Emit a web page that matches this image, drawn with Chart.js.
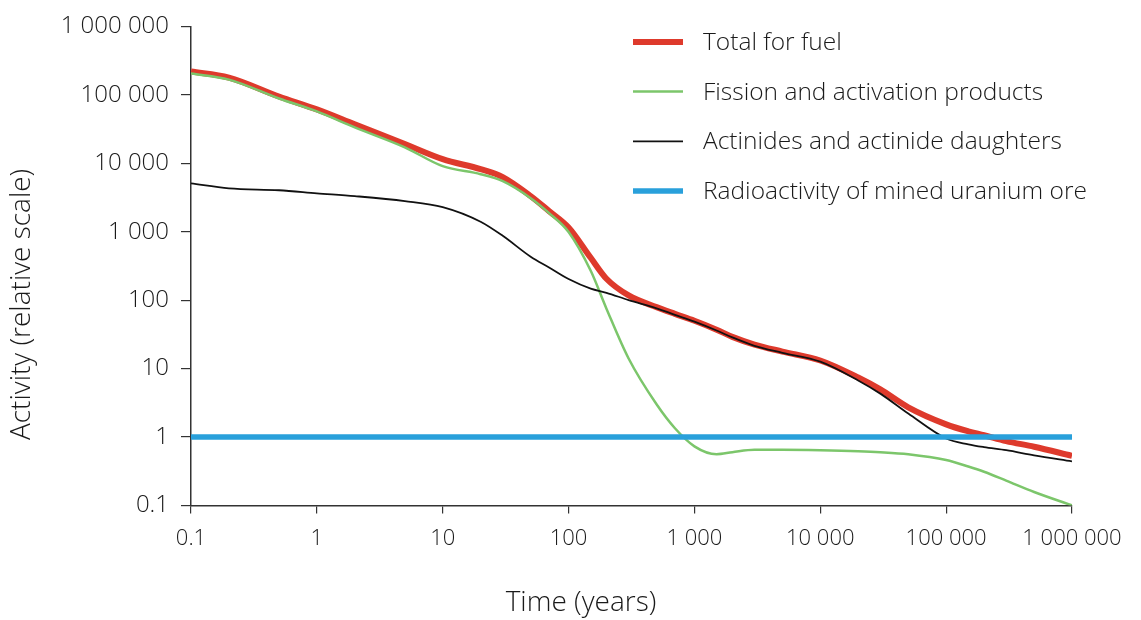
<!DOCTYPE html>
<html>
<head>
<meta charset="utf-8">
<title>Radioactivity of spent fuel over time</title>
<script src="https://cdn.jsdelivr.net/npm/chart.js@4.4.1/dist/chart.umd.min.js"></script>
<style>
  html, body { margin: 0; padding: 0; background: #fff; }
  #wrap { width: 1141px; height: 620px; }
</style>
</head>
<body>
<div id="wrap"><canvas id="chart" width="1141" height="620"></canvas></div>
<script>
// time after discharge (years), shared by the three fuel curves
const years = [0.1, 0.2, 0.5, 1, 2, 5, 10, 20, 30, 50, 70, 100, 150, 200, 300, 500, 700,
  1000, 1500, 2000, 3000, 5000, 10000, 20000, 30000, 50000, 100000, 150000, 200000,
  300000, 500000, 1000000];

// relative activity per curve
const totalFuel = [219000, 179000, 94600, 61200, 37000, 19100, 11500, 8200, 6270, 3310, 2000,
  1150, 415, 205, 117, 79, 63, 50, 37, 29, 22.4, 17.7, 13.1, 7.4, 4.95, 2.71, 1.53, 1.21,
  1.06, 0.87, 0.72, 0.53];
const fissionProducts = [205000, 167000, 88500, 57300, 33500, 17100, 9060, 6920, 5470, 3090, 1870,
  990, 268, 75, 14, 3.0, 1.34, 0.73, 0.56, 0.60, 0.65, 0.65, 0.64, 0.62, 0.60, 0.56, 0.46,
  0.37, 0.31, 0.23, 0.157, 0.1];
const actinides = [5080, 4300, 4030, 3640, 3310, 2800, 2290, 1400, 870, 430, 300,
  203, 147, 128, 100, 76, 61, 48.5, 36, 28.5, 21.5, 17, 12.6, 6.7, 4.3, 2.2, 0.95, 0.78,
  0.71, 0.64, 0.54, 0.44];

// reference level: mined uranium ore
const oreYears = [0.1, 1000000];
const oreActivity = [1, 1];

// axis ticks
const xTicks = [0.1, 1, 10, 100, 1000, 10000, 100000, 1000000];
const xTickLabels = ['0.1', '1', '10', '100', '1 000', '10 000', '100 000', '1 000 000'];
const yTicks = [0.1, 1, 10, 100, 1000, 10000, 100000, 1000000];
const yTickLabels = ['0.1', '1', '10', '100', '1 000', '10 000', '100 000', '1 000 000'];

const seriesNames = ['Total for fuel', 'Fission and activation products',
  'Actinides and actinide daughters', 'Radioactivity of mined uranium ore'];
const xTitle = 'Time (years)';
const yTitle = 'Activity (relative scale)';

const RED = '#de3a2c';
const GREEN = '#7cc66b';
const BLACK = '#111111';
const BLUE = '#29a0db';
const TEXT = '#1a1a1a';
const FONT = '"Open Sans", "DejaVu Sans", sans-serif';

function pairs(xs, ys) {
  return xs.map(function (x, i) { return { x: x, y: ys[i] }; });
}

// legend inside the plot (top right) and the two axis titles
const annotations = {
  id: 'annotations',
  afterDraw: function (chart) {
    const ctx = chart.ctx;
    const area = chart.chartArea;
    const x0 = area.right - 439;
    const y0 = area.top + 15.5;
    ctx.save();
    ctx.font = '300 24.5px ' + FONT;
    ctx.textBaseline = 'middle';
    ctx.textAlign = 'left';
    chart.data.datasets.forEach(function (ds, i) {
      const y = y0 + i * 49.7;
      ctx.strokeStyle = ds.borderColor;
      ctx.lineWidth = ds.borderWidth;
      ctx.beginPath();
      ctx.moveTo(x0, y);
      ctx.lineTo(x0 + 50, y);
      ctx.stroke();
      ctx.fillStyle = TEXT;
      ctx.fillText(ds.label, x0 + 70, y + 1);
    });

    ctx.font = '300 28px ' + FONT;
    ctx.textAlign = 'center';
    ctx.fillText(xTitle, area.left + 390, 603);

    ctx.translate(22, area.top + 278);
    ctx.rotate(-Math.PI / 2);
    ctx.fillText(yTitle, 0, 0);
    ctx.restore();
  }
};

const datasets = [
  { label: seriesNames[0], data: pairs(years, totalFuel), borderColor: RED, borderWidth: 6, order: 4 },
  { label: seriesNames[1], data: pairs(years, fissionProducts), borderColor: GREEN, borderWidth: 2.5, order: 3 },
  { label: seriesNames[2], data: pairs(years, actinides), borderColor: BLACK, borderWidth: 1.8, order: 2 },
  { label: seriesNames[3], data: pairs(oreYears, oreActivity), borderColor: BLUE, borderWidth: 5.5, order: 1 }
];
datasets.forEach(function (ds) {
  ds.pointRadius = 0;
  ds.fill = false;
  ds.cubicInterpolationMode = 'monotone';
});

const ctx = document.getElementById('chart').getContext('2d');
new Chart(ctx, {
  type: 'line',
  data: { datasets: datasets },
  options: {
    responsive: false,
    animation: false,
    layout: { padding: { top: 24.7, right: 69, left: 0, bottom: 0 } },
    plugins: {
      legend: { display: false },
      tooltip: { enabled: false }
    },
    scales: {
      x: {
        type: 'logarithmic',
        min: 0.1,
        max: 1000000,
        afterBuildTicks: function (scale) {
          scale.ticks = xTicks.map(function (v) { return { value: v }; });
        },
        afterFit: function (scale) { scale.height = 114.6; },
        ticks: {
          autoSkip: false,
          maxRotation: 0,
          padding: 12,
          color: TEXT,
          font: { family: FONT, size: 22, weight: 300 },
          callback: function (value, index) { return xTickLabels[index]; }
        },
        grid: { drawOnChartArea: false, tickLength: 8, color: '#333', lineWidth: 1.2 },
        border: { color: '#333', width: 1.5 }
      },
      y: {
        type: 'logarithmic',
        min: 0.1,
        max: 1000000,
        afterBuildTicks: function (scale) {
          scale.ticks = yTicks.map(function (v) { return { value: v }; });
        },
        afterFit: function (scale) { scale.width = 191; },
        ticks: {
          autoSkip: false,
          padding: 12,
          color: TEXT,
          font: { family: FONT, size: 24, weight: 300 },
          callback: function (value, index) { return yTickLabels[index]; }
        },
        grid: { drawOnChartArea: false, tickLength: 10, color: '#333', lineWidth: 1.2 },
        border: { color: '#333', width: 1.5 }
      }
    }
  },
  plugins: [annotations]
});
</script>
</body>
</html>
